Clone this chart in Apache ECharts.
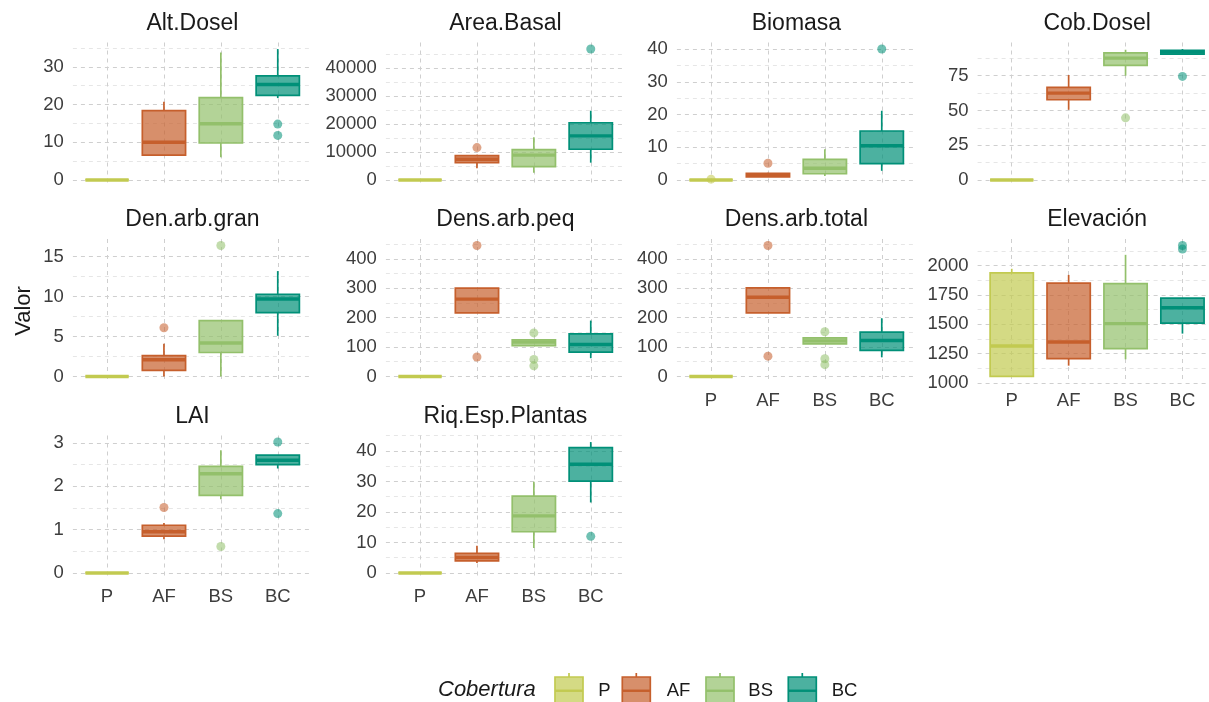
<!DOCTYPE html>
<html>
<head>
<meta charset="utf-8">
<script src="https://cdn.jsdelivr.net/npm/echarts@6/dist/echarts.min.js"></script>
<style>
  html, body { margin: 0; padding: 0; background: #ffffff; }
  #chart { width: 1209px; height: 702px; }
</style>
</head>
<body>
<div id="chart"></div>
<script>
// Land-cover classes (x categories) and facet variables
const coberturas = ['P', 'AF', 'BS', 'BC'];
const variables = ['Alt.Dosel', 'Area.Basal', 'Biomasa', 'Cob.Dosel', 'Den.arb.gran',
                   'Dens.arb.peq', 'Dens.arb.total', 'Elevación', 'LAI', 'Riq.Esp.Plantas'];

// Box summaries per class, in order P, AF, BS, BC: [lower whisker, Q1, median, Q3, upper whisker]
const altDoselStats      = [[0,0,0,0,0], [6.6,6.6,10.0,18.4,20.7], [6.0,9.8,14.9,21.8,33.8], [21.7,22.4,25.3,27.6,34.7]];
const altDoselOut        = [[], [], [], [14.8, 11.8]];
const areaBasalStats     = [[0,0,0,0,0], [4200,6200,7400,8700,9000], [2600,4800,8900,10900,15300], [6200,11000,15800,20500,24800]];
const areaBasalOut       = [[], [11600], [], [46900]];
const biomasaStats       = [[0,0,0,0,0], [0.9,0.95,1.5,2.0,2.2], [1.2,1.9,3.6,6.3,9.4], [2.8,5.0,10.5,15.0,21.2]];
const biomasaOut         = [[0.25], [5.1], [], [40.1]];
const cobDoselStats      = [[0,0,0,0,0], [50.5,57.7,62.5,66.6,75.5], [75,82.4,87.7,91.4,93.7], [90.6,90.6,92.0,93.3,94.2]];
const cobDoselOut        = [[], [], [44.7], [74.5]];
const denArbGranStats    = [[0,0,0,0,0], [0,0.75,2.1,2.6,4.1], [0,3.0,4.2,7.0,7.0], [5.1,8.0,9.7,10.3,13.2]];
const denArbGranOut      = [[], [6.1], [16.4], []];
const densArbPeqStats    = [[0,0,0,0,0], [216,216,263,300,300], [105,105,116.6,124.6,124.6], [62,82.6,108.8,145,190]];
const densArbPeqOut      = [[], [445, 66], [148, 58, 36], []];
const densArbTotalStats  = [[0,0,0,0,0], [216,216,269,301,301], [111,111,121,131,131], [65,88.4,122,150.6,198]];
const densArbTotalOut    = [[], [445, 69], [152, 60, 40], []];
const elevacionStats     = [[1055,1055,1314,1938,1972], [1147,1207,1348,1850,1920], [1201,1292,1505,1845,2091], [1420,1510,1640,1722,1722]];
const elevacionOut       = [[], [], [], [2170, 2140]];
const laiStats           = [[0,0,0,0,0], [0.78,0.85,0.95,1.1,1.15], [1.70,1.79,2.29,2.46,2.83], [2.41,2.5,2.6,2.72,2.72]];
const laiOut             = [[], [1.51], [0.61], [3.02, 1.37]];
const riqEspStats        = [[0,0,0,0,0], [3.3,3.95,5.05,6.4,8.9], [8.2,13.5,18.7,25.2,29.9], [23.1,30.1,35.6,41.1,42.9]];
const riqEspOut          = [[], [], [], [12]];

// Y tick spacing for each facet
const yTickSteps = [10, 10000, 10, 25, 5, 100, 100, 250, 1, 10];

const allStats = [altDoselStats, areaBasalStats, biomasaStats, cobDoselStats, denArbGranStats,
                  densArbPeqStats, densArbTotalStats, elevacionStats, laiStats, riqEspStats];
const allOut = [altDoselOut, areaBasalOut, biomasaOut, cobDoselOut, denArbGranOut,
                densArbPeqOut, densArbTotalOut, elevacionOut, laiOut, riqEspOut];

// ---- styling ----
const FONT = '"Liberation Sans", Arial, Helvetica, sans-serif';
const lineColors = ['#C2CA50', '#C65F2C', '#93C06B', '#009078'];
const fillColors = ['rgba(194,202,80,0.7)', 'rgba(198,95,44,0.7)', 'rgba(147,192,107,0.7)', 'rgba(0,144,120,0.7)'];
const BOX_W = 0.76;
const EDGE_W = 1.7;

// facet layout: 4 columns, 3 rows
const colLeft = [72.9, 385.9, 676.9, 977.6];
const rowTop = [42.5, 239, 435.5];
const PANEL_W = 239, PANEL_H = 144;
// panels whose x labels are drawn (bottom of each column)
const showXLabels = [false, false, false, false, false, false, true, true, true, true];

const chart = echarts.init(document.getElementById('chart'), null, { renderer: 'canvas' });

function renderBox(params, api) {
  const x = api.value(0);
  const ci = api.value(6);
  const pMin = api.coord([x, api.value(1)]);
  const pQ1 = api.coord([x, api.value(2)]);
  const pMed = api.coord([x, api.value(3)]);
  const pQ3 = api.coord([x, api.value(4)]);
  const pMax = api.coord([x, api.value(5)]);
  const half = api.size([BOX_W, 0])[0] / 2;
  const stroke = lineColors[ci];
  return {
    type: 'group',
    children: [
      { type: 'line', shape: { x1: pMax[0], y1: pMax[1], x2: pQ3[0], y2: pQ3[1] }, style: { stroke, lineWidth: EDGE_W } },
      { type: 'line', shape: { x1: pQ1[0], y1: pQ1[1], x2: pMin[0], y2: pMin[1] }, style: { stroke, lineWidth: EDGE_W } },
      { type: 'rect', shape: { x: pQ3[0] - half, y: pQ3[1], width: half * 2, height: pQ1[1] - pQ3[1] },
        style: { fill: fillColors[ci], stroke, lineWidth: EDGE_W } },
      { type: 'line', shape: { x1: pMed[0] - half, y1: pMed[1], x2: pMed[0] + half, y2: pMed[1] },
        style: { stroke, lineWidth: 3.4 } }
    ]
  };
}

const grids = [], xAxes = [], yAxes = [], series = [], graphics = [];

variables.forEach((name, i) => {
  const col = i % 4, row = Math.floor(i / 4);
  const stats = allStats[i], outs = allOut[i];
  const vals = stats.flat().concat(outs.flat());
  const lo = Math.min(...vals), hi = Math.max(...vals);
  const pad = (hi - lo) * 0.05;
  const step = yTickSteps[i];

  grids.push({ left: colLeft[col], top: rowTop[row], width: PANEL_W, height: PANEL_H,
               containLabel: false, outerBoundsMode: 'none' });

  xAxes.push({
    type: 'value', gridIndex: i, min: 0.4, max: 4.6, minInterval: 1, maxInterval: 1,
    axisLine: { show: false }, axisTick: { show: false },
    axisLabel: {
      show: showXLabels[i], showMinLabel: false, showMaxLabel: false, margin: 8,
      color: '#3d3d3d', fontSize: 18.5, fontFamily: FONT,
      formatter: v => (Number.isInteger(v) && v >= 1 && v <= 4) ? coberturas[v - 1] : ''
    },
    splitLine: { show: true, showMinLine: false, showMaxLine: false,
                 lineStyle: { color: '#cfcfcf', width: 1, type: [4, 4] } }
  });

  yAxes.push({
    type: 'value', gridIndex: i, min: lo - pad, max: hi + pad,
    minInterval: step, maxInterval: step, splitNumber: 4,
    axisLine: { show: false }, axisTick: { show: false },
    minorTick: { show: false, splitNumber: 2 },
    axisLabel: {
      showMinLabel: false, showMaxLabel: false, margin: 9,
      color: '#3d3d3d', fontSize: 18.5, fontFamily: FONT,
      formatter: v => String(v)
    },
    splitLine: { show: true, showMinLine: false, showMaxLine: false,
                 lineStyle: { color: '#cfcfcf', width: 1, type: [4, 4] } },
    minorSplitLine: { show: true, lineStyle: { color: '#e4e4e4', width: 0.9, type: [4, 4] } }
  });

  series.push({
    type: 'custom', xAxisIndex: i, yAxisIndex: i, renderItem: renderBox, silent: true,
    encode: { x: 0, y: [1, 2, 3, 4, 5] },
    data: stats.map((s, k) => [k + 1].concat(s).concat([k]))
  });

  const outData = [];
  outs.forEach((list, k) => list.forEach(v => outData.push([k + 1, v, k])));
  series.push({
    type: 'scatter', xAxisIndex: i, yAxisIndex: i, silent: true,
    symbol: 'circle', symbolSize: 9,
    itemStyle: { color: p => fillColors[p.data[2]], borderWidth: 0 },
    data: outData
  });

  // facet strip title
  graphics.push({
    type: 'text', x: colLeft[col] + PANEL_W / 2, y: rowTop[row] - 19,
    style: { text: name, align: 'center', verticalAlign: 'middle',
             fontSize: 23, fontFamily: FONT, fill: '#1a1a1a' }
  });
});

// y-axis title
graphics.push({
  type: 'text', x: 24, y: 311, rotation: Math.PI / 2,
  style: { text: 'Valor', align: 'center', verticalAlign: 'middle',
           fontSize: 22, fontFamily: FONT, fill: '#1a1a1a' }
});

// legend: title, then a boxplot key and label for each class
graphics.push({
  type: 'text', x: 438, y: 690,
  style: { text: 'Cobertura', align: 'left', verticalAlign: 'middle',
           fontSize: 22, fontStyle: 'italic', fontFamily: FONT, fill: '#1a1a1a' }
});
const keyLeft = [555, 622.3, 706, 788.3];
const labelLeft = [598.3, 666.7, 748.3, 831.7];
coberturas.forEach((c, k) => {
  const x0 = keyLeft[k], kw = 28, top = 677, bottom = 704.5, mid = (top + bottom) / 2;
  graphics.push({
    type: 'group',
    children: [
      { type: 'line', shape: { x1: x0 + kw / 2, y1: top - 4, x2: x0 + kw / 2, y2: top }, style: { stroke: lineColors[k], lineWidth: EDGE_W } },
      { type: 'line', shape: { x1: x0 + kw / 2, y1: bottom, x2: x0 + kw / 2, y2: bottom + 4 }, style: { stroke: lineColors[k], lineWidth: EDGE_W } },
      { type: 'rect', shape: { x: x0, y: top, width: kw, height: bottom - top },
        style: { fill: fillColors[k], stroke: lineColors[k], lineWidth: EDGE_W } },
      { type: 'line', shape: { x1: x0, y1: mid, x2: x0 + kw, y2: mid }, style: { stroke: lineColors[k], lineWidth: 2.4 } }
    ]
  });
  graphics.push({
    type: 'text', x: labelLeft[k], y: 690.5,
    style: { text: c, align: 'left', verticalAlign: 'middle',
             fontSize: 18.5, fontFamily: FONT, fill: '#1a1a1a' }
  });
});

chart.setOption({
  animation: false,
  backgroundColor: '#ffffff',
  grid: grids,
  xAxis: xAxes,
  yAxis: yAxes,
  series: series,
  graphic: graphics
});
</script>
</body>
</html>
